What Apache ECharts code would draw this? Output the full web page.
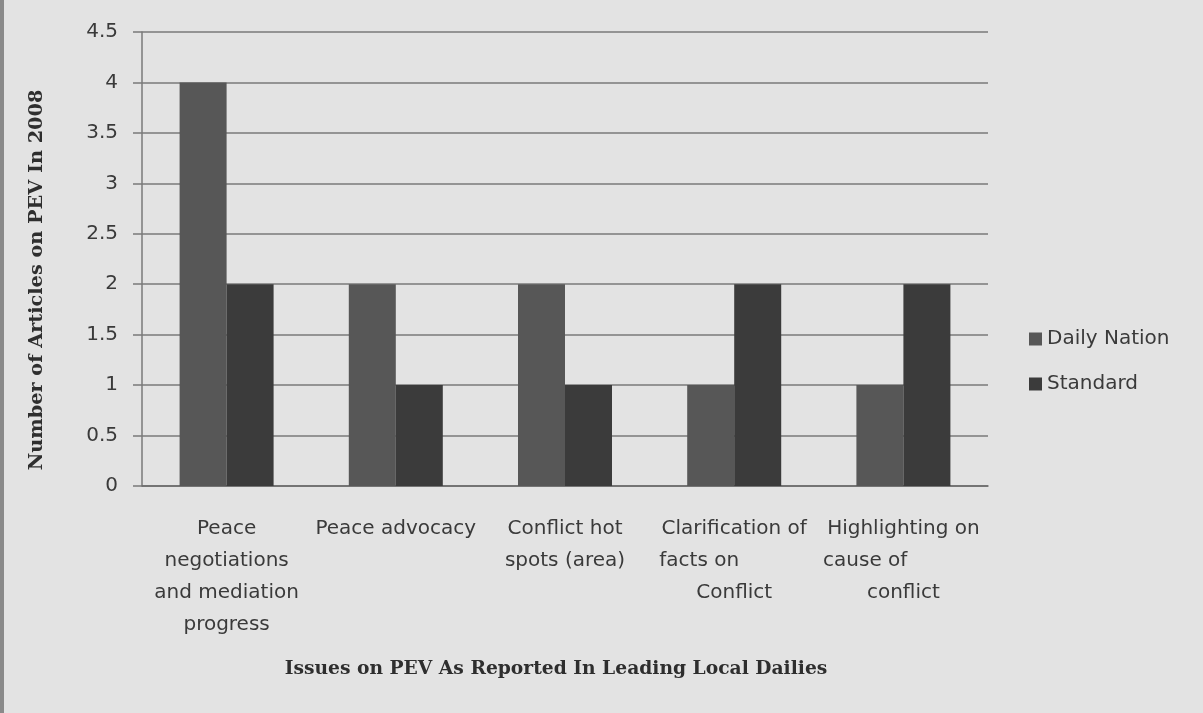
<!DOCTYPE html>
<html>
<head>
<meta charset="utf-8">
<script src="https://cdn.jsdelivr.net/npm/echarts@6/dist/echarts.min.js"></script>
<style>
html,body{margin:0;padding:0;background:#e3e3e3;}
#c{width:1203px;height:713px;}
#edgeL{position:absolute;left:0;top:0;width:4px;height:713px;background:#8a8a8a;}
</style>
</head>
<body>
<div id="c"></div>
<div id="edgeL"></div>
<script>
const categories = [
  "Peace\nnegotiations\nand mediation\nprogress",
  "Peace advocacy",
  "Conflict hot\nspots (area)",
  "Clarification of\nfacts on           \nConflict",
  "Highlighting on\ncause of            \nconflict"
];
const seriesNames = ["Daily Nation", "Standard"];
const dailyNation = [4, 2, 2, 1, 1];
const standard = [2, 1, 1, 2, 2];
const yTicks = { min: 0, max: 4.5, interval: 0.5 };

const chart = echarts.init(document.getElementById('c'), null, {renderer: 'canvas'});
chart.setOption({
  backgroundColor: '#e3e3e3',
  animation: false,
  grid: { left: 142, right: 215, top: 32, bottom: 227, containLabel: false },
  legend: {
    orient: 'vertical',
    left: 1024, top: 324,
    itemWidth: 13, itemHeight: 13, itemGap: 25,
    icon: 'rect',
    textStyle: { fontFamily: 'DejaVu Sans', fontSize: 20, color: '#3a3a3a' },
    data: seriesNames
  },
  xAxis: {
    type: 'category',
    data: categories,
    axisLine: { show: true, lineStyle: { color: '#6a6a6a', width: 1.5 } },
    axisTick: { show: false },
    axisLabel: {
      interval: 0, margin: 27, fontFamily: 'DejaVu Sans', fontSize: 20,
      color: '#3a3a3a', lineHeight: 32, align: 'center'
    },
    name: 'Issues on PEV As Reported In Leading Local Dailies',
    nameLocation: 'middle', nameGap: 174,
    nameTextStyle: { fontFamily: 'DejaVu Serif', fontWeight: 'bold', fontSize: 18.7, color: '#2e2e2e',
      padding: [0, 18, 0, 0] }
  },
  yAxis: {
    type: 'value',
    min: yTicks.min, max: yTicks.max, interval: yTicks.interval,
    axisLine: { show: true, lineStyle: { color: '#7a7a7a', width: 1.5 } },
    axisTick: { show: true, length: 9, lineStyle: { color: '#7a7a7a', width: 1.5 } },
    axisLabel: { margin: 24, fontFamily: 'DejaVu Sans', fontSize: 20, color: '#3a3a3a' },
    splitLine: { show: true, lineStyle: { color: '#7a7a7a', width: 1.5 } },
    name: 'Number of Articles on PEV In 2008',
    nameLocation: 'middle', nameGap: 96, nameRotate: 90,
    nameTextStyle: { fontFamily: 'DejaVu Serif', fontWeight: 'bold', fontSize: 19.3, color: '#2e2e2e',
      padding: [0, 42, 0, 0] }
  },
  series: [
    { name: seriesNames[0], type: 'bar', data: dailyNation, barWidth: 47, barGap: '0%',
      itemStyle: { color: '#575757' } },
    { name: seriesNames[1], type: 'bar', data: standard, barWidth: 47, barGap: '0%',
      itemStyle: { color: '#3b3b3b' } }
  ]
});
</script>
</body>
</html>
